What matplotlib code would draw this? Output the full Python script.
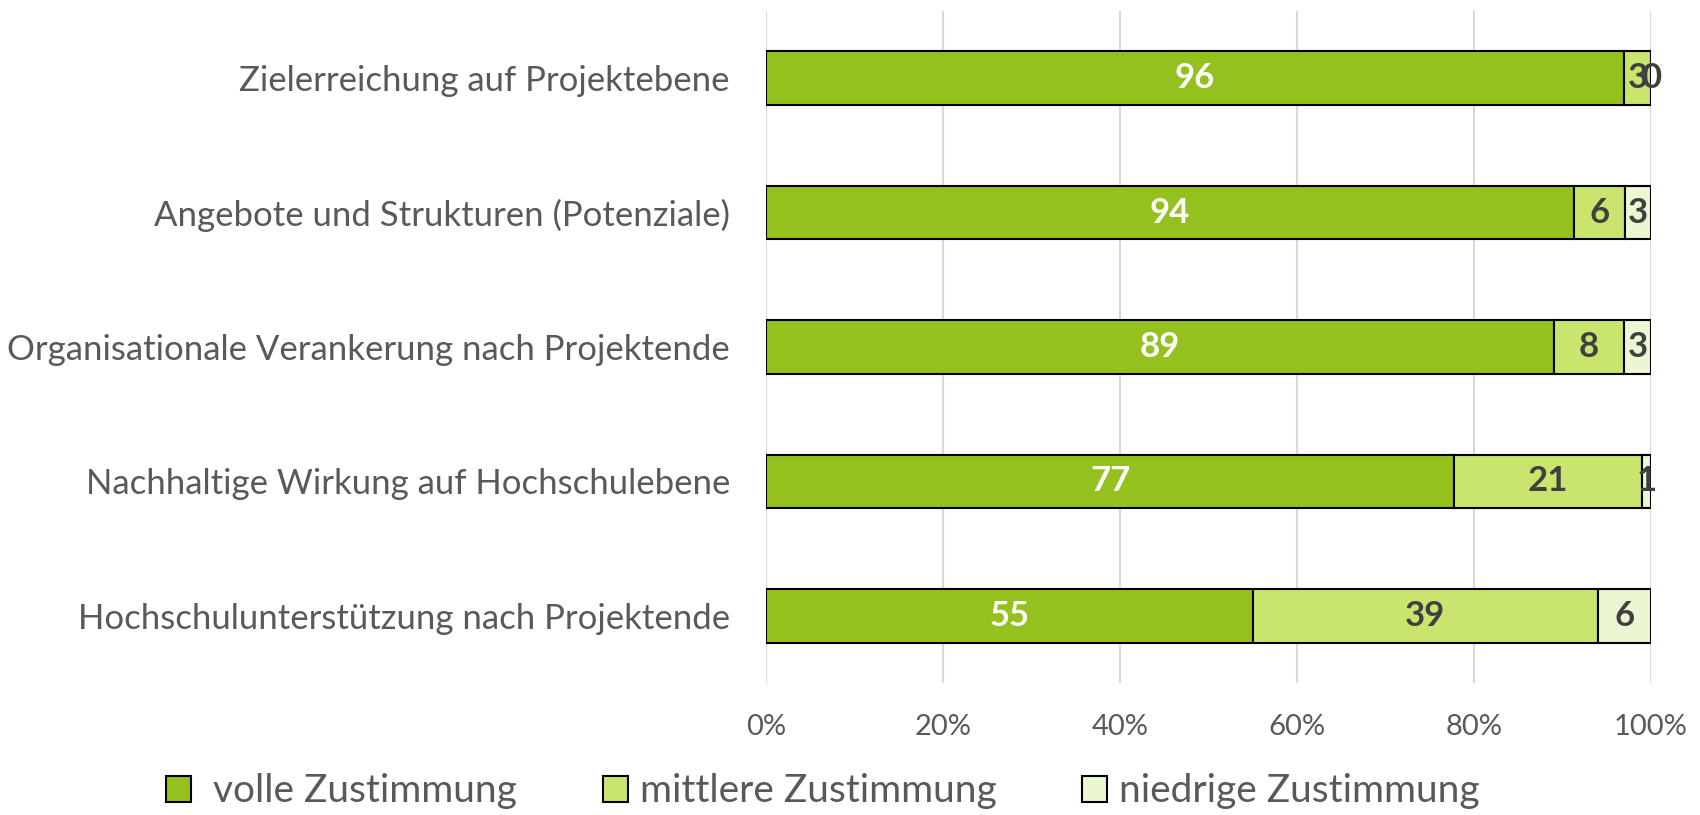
import numpy as np
import matplotlib.pyplot as plt

# categories (top to bottom) and answer shares as printed in the chart
categories = ['Zielerreichung auf Projektebene',
              'Angebote und Strukturen (Potenziale)',
              'Organisationale Verankerung nach Projektende',
              'Nachhaltige Wirkung auf Hochschulebene',
              'Hochschulunterstützung nach Projektende']
volle = [96, 94, 89, 77, 55]
mittlere = [3, 6, 8, 21, 39]
niedrige = [0, 3, 3, 1, 6]
series_names = [' volle Zustimmung', 'mittlere Zustimmung', 'niedrige Zustimmung']
colors = ['#95C11F', '#C9E56D', '#EBF6D3']
label_colors = ['white', '#404040', '#404040']

plt.rcParams['font.family'] = ['Lato', 'DejaVu Sans']

fig = plt.figure(figsize=(17, 8.15), dpi=100)
ax = fig.add_axes([0.4506, 0.162, 0.5206, 0.8245])

data = np.array([volle, mittlere, niedrige], dtype=float)
shares = data / data.sum(axis=0)  # 100% stacked
y = np.arange(len(categories))
left = np.zeros(len(categories))
for i in range(3):
    ax.barh(y, shares[i], left=left, height=0.4, color=colors[i],
            edgecolor='black', linewidth=1.5, label=series_names[i], zorder=3)
    for j in range(len(categories)):
        ax.text(left[j] + shares[i][j] / 2, y[j], str(int(data[i][j])),
                ha='center', va='center', fontsize=25, fontweight='bold',
                color=label_colors[i], zorder=4)
    left += shares[i]

ax.set_ylim(len(categories) - 0.5, -0.5)
ax.set_xlim(0, 1)
ax.set_yticks(y)
ax.set_yticklabels(categories, fontsize=25, color='#595959')
ax.set_xticks(np.linspace(0, 1, 6))
ax.set_xticklabels(['0%', '20%', '40%', '60%', '80%', '100%'], fontsize=21, color='#595959')
ax.tick_params(axis='both', length=0)
ax.tick_params(axis='y', pad=26)
ax.tick_params(axis='x', pad=22)
ax.grid(axis='x', color='#D9D9D9', linewidth=1.5, zorder=0)
for s in ax.spines.values():
    s.set_visible(False)

fig.legend(loc='lower center', bbox_to_anchor=(0.484, -0.036), ncol=3, frameon=False,
           fontsize=28, handlelength=0.65, handleheight=0.65, handletextpad=0.3,
           columnspacing=2.2, labelcolor='#595959')

plt.savefig('out.png')
